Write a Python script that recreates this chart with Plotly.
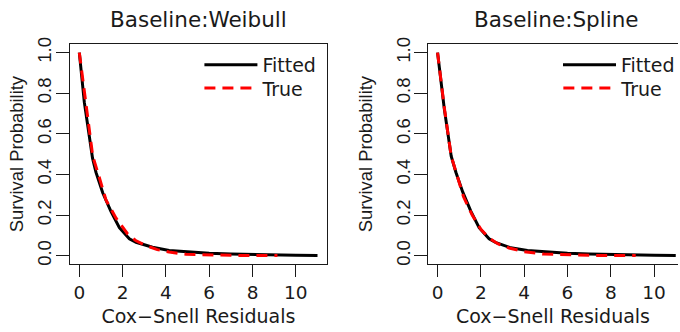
import plotly.graph_objects as go

# ---- data ----
panel_titles = ["Baseline:Weibull", "Baseline:Spline"]

w_fit_x = [0, 0.23, 0.61, 0.77, 1.08, 1.46, 1.85, 2.31, 2.62, 3.0, 3.38, 4.15, 5.0, 6.0, 7.0, 8.0, 9.0, 10.0, 11.0]
w_fit_y = [1.0, 0.756, 0.48, 0.41, 0.31, 0.218, 0.138, 0.083, 0.066, 0.053, 0.042, 0.026, 0.018, 0.012, 0.008, 0.005, 0.003, 0.002, 0.001]

w_true_x = [0, 0.3, 0.62, 0.92, 1.23, 1.69, 2.23, 2.6, 3.08, 3.6, 4.15, 4.92, 6.0, 7.0, 8.0, 9.15]
w_true_y = [1.0, 0.74, 0.49, 0.386, 0.275, 0.186, 0.107, 0.075, 0.05, 0.03, 0.018, 0.007, 0.003, 0.002, 0.001, 0.0005]

s_fit_x = [0, 0.31, 0.63, 0.85, 1.16, 1.54, 1.92, 2.38, 2.7, 3.38, 4.15, 5.0, 6.0, 7.0, 8.0, 9.0, 10.0, 11.0]
s_fit_y = [1.0, 0.724, 0.49, 0.41, 0.314, 0.218, 0.138, 0.083, 0.064, 0.039, 0.026, 0.018, 0.012, 0.008, 0.005, 0.003, 0.002, 0.001]

s_true_x = [0, 0.31, 0.63, 0.9, 1.2, 1.6, 2.0, 2.4, 2.8, 3.3, 4.0, 4.9, 6.0, 7.0, 8.0, 9.15]
s_true_y = [1.0, 0.73, 0.49, 0.39, 0.29, 0.2, 0.13, 0.085, 0.058, 0.038, 0.02, 0.008, 0.003, 0.002, 0.001, 0.0005]

x_ticks = [0, 2, 4, 6, 8, 10]
y_ticks = [0.0, 0.2, 0.4, 0.6, 0.8, 1.0]
x_label = "Cox\u2212Snell Residuals"
y_label = "Survival Probability"
series_names = ["Fitted", "True"]

# ---- layout constants ----
W, H = 680, 332
WIDE = "DejaVu Sans, Liberation Sans, sans-serif"
NARROW = "Liberation Sans, Arial, Helvetica, sans-serif"
INK = "#1a1a1a"
px_per_unit = 258 / 11.88
left_dom = [70 / W, 328 / W]
right_dom = [429.3 / W, 1.0]
right_range = [-0.44, -0.44 + (W - 429.3) / px_per_unit]
y_dom = [(H - 264) / H, (H - 38.5) / H]

fig = go.Figure()

def add_panel(fx, fy, tx, ty, xa, ya, leg_fit, leg_true):
    fig.add_trace(go.Scatter(x=fx, y=fy, mode="lines", name=series_names[0],
                             line=dict(color="black", width=3),
                             xaxis=xa, yaxis=ya, legend=leg_fit))
    fig.add_trace(go.Scatter(x=tx, y=ty, mode="lines", name=series_names[1],
                             line=dict(color="#ff0000", width=3, dash="11px,7px"),
                             xaxis=xa, yaxis=ya, legend=leg_true))

add_panel(w_fit_x, w_fit_y, w_true_x, w_true_y, "x", "y", "legend", "legend2")
add_panel(s_fit_x, s_fit_y, s_true_x, s_true_y, "x2", "y2", "legend3", "legend4")

xcommon = dict(tickmode="array", tickvals=x_ticks, ticktext=[str(v) for v in x_ticks],
               ticks="outside", ticklen=12, tickwidth=1, tickcolor=INK,
               showline=True, linecolor=INK, linewidth=1, mirror=True,
               showgrid=False, zeroline=False,
               tickfont=dict(size=18.5, color=INK, family=WIDE),
               title=dict(text=x_label, font=dict(size=19, color=INK, family=WIDE), standoff=7))

def ycommon(standoff):
    return dict(tickmode="array", tickvals=y_ticks, ticktext=["%.1f" % v for v in y_ticks],
                range=[-0.04, 1.04], domain=y_dom,
                ticks="outside", ticklen=13, tickwidth=1, tickcolor=INK,
                showline=True, linecolor=INK, linewidth=1,
                showgrid=False, zeroline=False, tickangle=-90, ticklabelstandoff=-3,
                tickfont=dict(size=18.5, color=INK, family=NARROW),
                title=dict(text=y_label, font=dict(size=18.4, color=INK, family=NARROW),
                           standoff=standoff))

def leg(xpx, ypx):
    return dict(x=xpx / W, y=(H - ypx) / H, xanchor="left", yanchor="top",
                bgcolor="rgba(0,0,0,0)", font=dict(size=19, color=INK, family=WIDE),
                itemwidth=53)

fig.update_layout(
    width=W, height=H,
    margin=dict(l=0, r=0, t=0, b=0),
    paper_bgcolor="white", plot_bgcolor="white",
    font=dict(family=WIDE, color=INK),
    xaxis=dict(domain=left_dom, range=[-0.44, 11.44], anchor="y", **xcommon),
    yaxis=dict(anchor="x", mirror=True, **ycommon(5)),
    xaxis2=dict(domain=right_dom, range=right_range, anchor="y2", **xcommon),
    yaxis2=dict(anchor="x2", mirror=False, **ycommon(15)),
    legend=leg(200, 40),
    legend2=leg(200, 64),
    legend3=leg(560, 40),
    legend4=leg(560, 64),
    showlegend=True,
)

centers = [(left_dom[0] + left_dom[1]) / 2, (429.3 + 429.3 + 258) / 2 / W]
for t, cx in zip(panel_titles, centers):
    fig.add_annotation(text=t, x=cx, y=(H - 13) / H, xref="paper", yref="paper",
                       xanchor="center", yanchor="middle", showarrow=False,
                       font=dict(size=21.5, color=INK, family=WIDE))

fig.write_html("out.html", config={"displayModeBar": False},
               post_script="document.body.style.margin='0';document.body.style.overflow='hidden';")
